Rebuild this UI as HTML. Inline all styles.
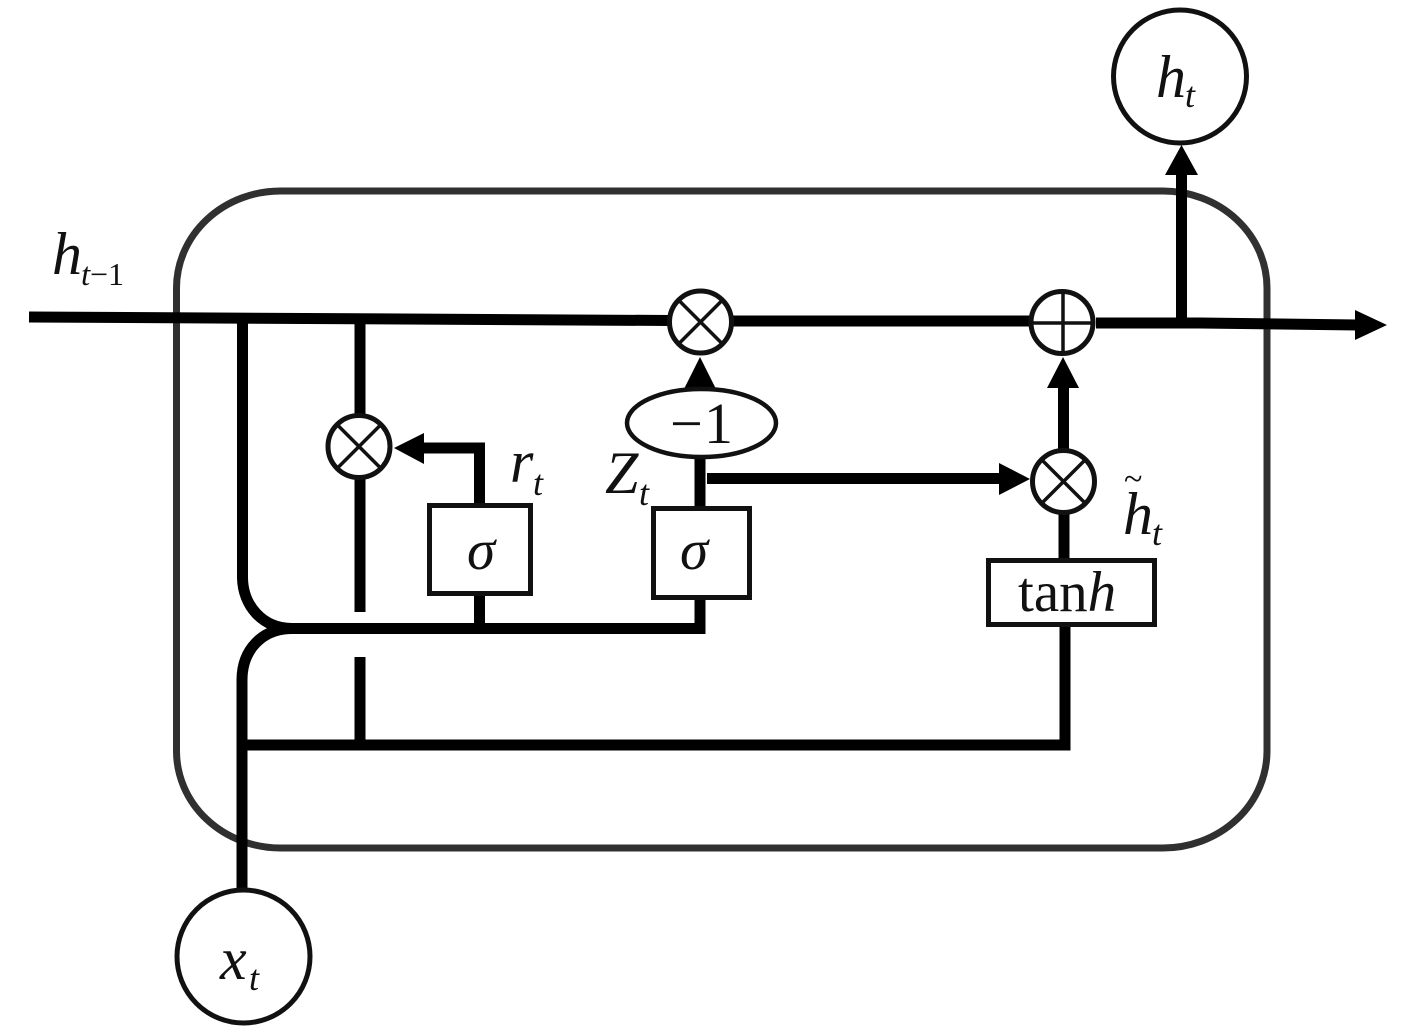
<!DOCTYPE html>
<html>
<head>
<meta charset="utf-8">
<style>
html,body{margin:0;padding:0;background:#fff;}
svg{display:block;}
text{font-family:"Liberation Serif",serif;fill:#111;}
</style>
</head>
<body>
<svg width="1417" height="1035" viewBox="0 0 1417 1035" xmlns="http://www.w3.org/2000/svg">
<rect x="176.5" y="191" width="1090.5" height="657" rx="104" ry="97" fill="none" stroke="#303030" stroke-width="7"/>

<g fill="none" stroke="#000" stroke-width="11">
<path d="M29 317 L670 320.5"/>
<path d="M733 321 H1030"/>
<path d="M1096 323 H1200 L1358 325" />
<path d="M1181.5 323 V172"/>
<path d="M242.5 318 V578 C243 605 262 628.5 292 628.5 H700 V598"/>
<path d="M242 890 V680 C242 650 262 628.5 292 628.5"/>
<path d="M360 320 V415"/>
<path d="M360 478 V612"/>
<path d="M360 657 V745"/>
<path d="M242 745 H1065 V625"/>
<path d="M1064 560 V512"/>
<path d="M1063.5 452 V385"/>
<path d="M479.5 506 V448 H420"/>
<path d="M479.5 594 V628"/>
<path d="M700 510 V456"/>
<path d="M707 478.5 H1003"/>
</g>

<polygon points="1387,325 1355,310 1355,340" fill="#000"/>
<polygon points="1181.5,145 1165,175 1198,175" fill="#000"/>
<polygon points="1063,357 1047,388 1079,388" fill="#000"/>
<polygon points="700,357 683,391 717,391" fill="#000"/>
<polygon points="394,448 424,433 424,464" fill="#000"/>
<polygon points="1030,479 999,463 999,495" fill="#000"/>

<g fill="#fff" stroke="#111" stroke-width="5">
<circle cx="1180" cy="76.5" r="66.5"/>
<circle cx="243.5" cy="956.5" r="66.5"/>
<circle cx="700.5" cy="322" r="31"/>
<circle cx="1062" cy="322.5" r="31"/>
<circle cx="359" cy="446.5" r="31"/>
<circle cx="1063.5" cy="481.5" r="31"/>
<ellipse cx="701.5" cy="423" rx="74.5" ry="34" stroke-width="4.5"/>
<rect x="429.5" y="505.5" width="101" height="88"/>
<rect x="653.5" y="508.5" width="96" height="89"/>
<rect x="988.5" y="560.5" width="166" height="64"/>
</g>

<g stroke="#111" stroke-width="3.5" fill="none">
<path d="M679 300.5 L722 343.5 M722 300.5 L679 343.5"/>
<path d="M1031 323 H1093 M1063 291.5 V353.5"/>
<path d="M337.5 425 L380.5 468 M380.5 425 L337.5 468"/>
<path d="M1042 460 L1085 503 M1085 460 L1042 503"/>
</g>

<text x="52" y="274" font-size="60" font-style="italic">h</text>
<text x="81" y="285" font-size="33" font-style="italic">t</text>
<text x="90" y="285" font-size="32">−1</text>

<text x="1156" y="97" font-size="60" font-style="italic">h</text>
<text x="1185" y="107" font-size="36" font-style="italic">t</text>

<text x="220" y="979" font-size="60" font-style="italic">x</text>
<text x="249" y="990" font-size="36" font-style="italic">t</text>

<text x="510" y="482" font-size="60" font-style="italic">r</text>
<text x="533" y="495" font-size="36" font-style="italic">t</text>

<text x="605" y="493" font-size="60" font-style="italic">Z</text>
<text x="639" y="505" font-size="36" font-style="italic">t</text>

<text x="670" y="443" font-size="58">−</text>
<text x="704" y="443" font-size="58">1</text>

<text x="467" y="569" font-size="57" font-style="italic">σ</text>
<text x="680" y="569" font-size="57" font-style="italic">σ</text>

<text x="1018" y="611" font-size="57">tan<tspan font-style="italic">h</tspan></text>

<text x="1123" y="534" font-size="60" font-style="italic">h</text>
<text x="1152" y="545" font-size="36" font-style="italic">t</text>
<text x="1124" y="490" font-size="34">~</text>
</svg>
</body>
</html>
